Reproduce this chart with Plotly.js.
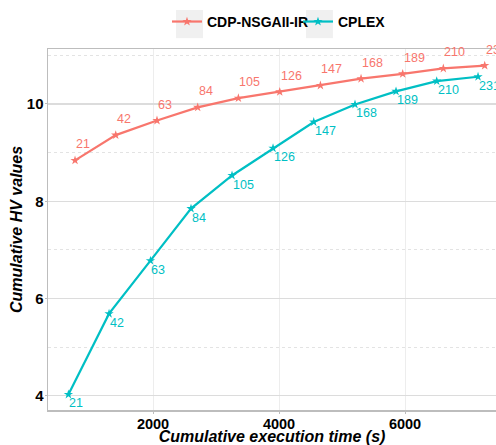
<!DOCTYPE html>
<html><head><meta charset="utf-8">
<script src="https://cdn.plot.ly/plotly-3.0.1.min.js"></script>
<style>html,body{margin:0;padding:0;overflow:hidden;background:#fff}</style>
</head><body><div id="chart" style="width:496px;height:445px"></div>
<script>
const labels = ['21','42','63','84','105','126','147','168','189','210','231'];
const cdpTime = [762,1408,2063,2709,3355,4011,4657,5302,5963,6608,7265];
const cdpHV = [8.84,9.36,9.66,9.93,10.12,10.25,10.38,10.52,10.62,10.73,10.79];
const cplexTime = [657,1302,1959,2603,3254,3905,4551,5206,5857,6503,7159];
const cplexHV = [4.03,5.69,6.78,7.85,8.53,9.09,9.63,9.99,10.26,10.47,10.56];

const red = '#F8766D', teal = '#00BFC4';
const font = 'Liberation Sans, Arial, sans-serif';

const traces = [
  {x: cdpTime, y: cdpHV, name: 'CDP-NSGAII-IR', mode: 'lines+markers',
   line: {color: red, width: 2.2}, marker: {symbol: 'star', size: 7, color: red}},
  {x: cplexTime, y: cplexHV, name: 'CPLEX', mode: 'lines+markers',
   line: {color: teal, width: 2.2}, marker: {symbol: 'star', size: 7, color: teal}}
];

function labelAnns(xs, ys, color, yshift) {
  return xs.map((x, i) => ({
    x: x, y: ys[i], xref: 'x', yref: 'y', text: labels[i], showarrow: false,
    xanchor: 'left', yanchor: 'middle', xshift: -1, yshift: yshift,
    font: {color: color, size: 12.5, family: font}
  }));
}

const yTitle = {
  xref: 'paper', yref: 'paper', x: -0.0703, y: 0.5, xanchor: 'center', yanchor: 'middle',
  text: 'Cumulative HV values', textangle: -90, showarrow: false,
  font: {size: 16, weight: 'bold', style: 'italic', color: '#000', family: font}
};

const layout = {
  width: 496, height: 445,
  margin: {l: 48, r: 0, t: 49, b: 35},
  paper_bgcolor: '#fff', plot_bgcolor: '#fff',
  font: {family: font, color: '#000'},
  showlegend: true,
  legend: {orientation: 'h', x: 0.2656, y: 1.075, xanchor: 'left', yanchor: 'middle',
           entrywidth: 86, entrywidthmode: 'pixels',
           font: {size: 14, family: font, weight: 'bold', color: '#000'}, bgcolor: 'rgba(0,0,0,0)'},
  xaxis: {range: [333, 7444], tickvals: [2000,4000,6000], ticktext: ['2000','4000','6000'],
          showgrid: true, gridcolor: '#ededed', gridwidth: 1, zeroline: false,
          showline: true, linecolor: '#bdbdbd', linewidth: 1.5, mirror: true,
          ticks: 'outside', ticklen: 2, tickcolor: '#bdbdbd', ticklabelstandoff: -2,
          tickfont: {size: 14.5, weight: 'bold', color: '#000'},
          title: {text: 'Cumulative execution time (s)', standoff: 1,
                  font: {size: 16, weight: 'bold', style: 'italic', color: '#000'}}},
  yaxis: {range: [3.71, 11.13], tickvals: [4,6,8,10], ticktext: ['4','6','8','10'],
          showgrid: true, gridcolor: '#dcdcdc', gridwidth: 1.2, zeroline: false,
          minor: {dtick: 1, tick0: 0, showgrid: true, gridcolor: '#e3e3e3', griddash: 'dot', gridwidth: 1},
          showline: true, linecolor: '#bdbdbd', linewidth: 1.5,
          ticks: 'outside', ticklen: 2, tickcolor: '#bdbdbd', ticklabelstandoff: -2,
          tickfont: {size: 15, weight: 'bold', color: '#000'}},
  annotations: labelAnns(cdpTime, cdpHV, red, 16).concat(labelAnns(cplexTime, cplexHV, teal, -9), [yTitle]),
  shapes: [
    {type: 'rect', xref: 'paper', yref: 'paper', x0: 0.2857, x1: 0.346, y0: 1.030, y1: 1.108,
     fillcolor: '#f0f0f0', line: {width: 0}, layer: 'below'},
    {type: 'rect', xref: 'paper', yref: 'paper', x0: 0.576, x1: 0.636, y0: 1.030, y1: 1.108,
     fillcolor: '#f0f0f0', line: {width: 0}, layer: 'below'}
  ]
};

Plotly.newPlot('chart', traces, layout, {displayModeBar: false, staticPlot: true});
</script></body></html>
